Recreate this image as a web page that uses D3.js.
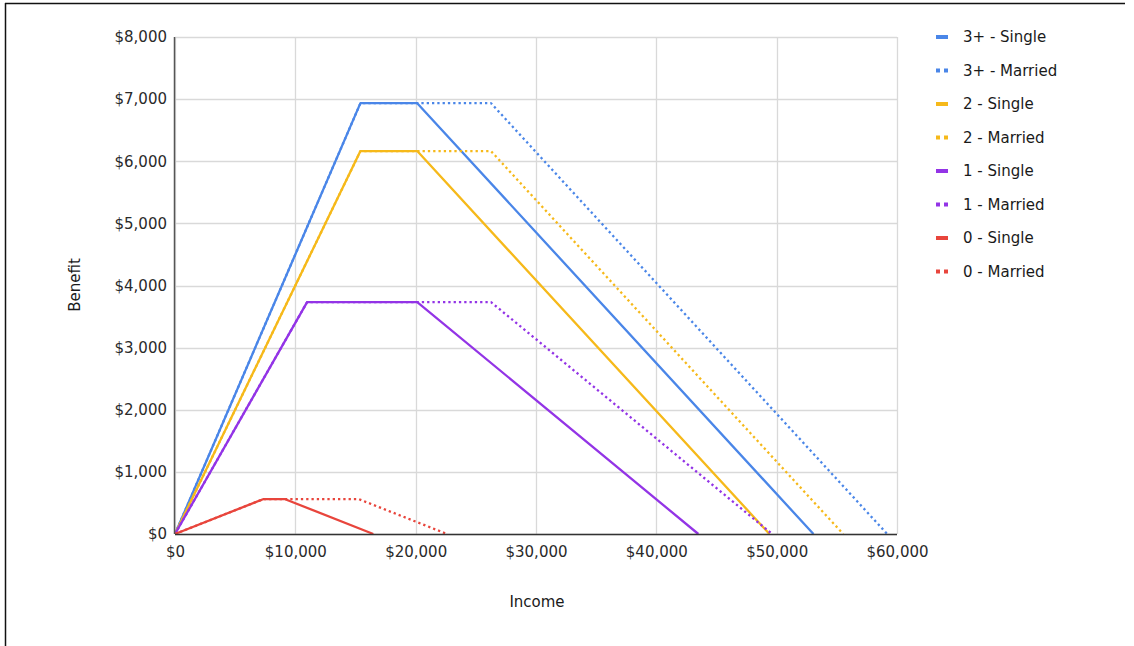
<!DOCTYPE html>
<html><head><meta charset="utf-8">
<script src="https://cdn.jsdelivr.net/npm/d3@7"></script>
<style>body{margin:0;background:#fff;} text{font-family:"DejaVu Sans",Arial,sans-serif;}</style>
</head><body>
<svg id="c" width="1134" height="646"></svg>
<script>
const seriesNames = ["3+ - Single","3+ - Married","2 - Single","2 - Married","1 - Single","1 - Married","0 - Single","0 - Married"];
const seriesColors = ["#4a86e8","#4a86e8","#f6b91a","#f6b91a","#9334e6","#9334e6","#e8453c","#e8453c"];
const seriesDotted = [false,true,false,true,false,true,false,true];
// income breakpoints and benefit values per series
const incomes3S = [0,15410,20130,53057];
const benefit3S = [0,6935,6935,0];
const incomes3M = [0,15410,26260,59187];
const benefit3M = [0,6935,6935,0];
const incomes2S = [0,15410,20130,49399];
const benefit2S = [0,6164,6164,0];
const incomes2M = [0,15410,26260,55529];
const benefit2M = [0,6164,6164,0];
const incomes1S = [0,10980,20130,43492];
const benefit1S = [0,3733,3733,0];
const incomes1M = [0,10980,26260,49622];
const benefit1M = [0,3733,3733,0];
const incomes0S = [0,7320,9160,16480];
const benefit0S = [0,560,560,0];
const incomes0M = [0,7320,15290,22610];
const benefit0M = [0,560,560,0];
const xTicks = [0,10000,20000,30000,40000,50000,60000];
const yTicks = [0,1000,2000,3000,4000,5000,6000,7000,8000];

const seriesData = [
  [incomes3S,benefit3S],[incomes3M,benefit3M],[incomes2S,benefit2S],[incomes2M,benefit2M],
  [incomes1S,benefit1S],[incomes1M,benefit1M],[incomes0S,benefit0S],[incomes0M,benefit0M]
];

const FONT = "DejaVu Sans, Arial, sans-serif";
const svg = d3.select("#c");
// frame
svg.append("line").attr("x1",5.5).attr("x2",5.5).attr("y1",3).attr("y2",646).attr("stroke","#111").attr("stroke-width",1.5);
svg.append("line").attr("x1",5).attr("x2",1125).attr("y1",3.5).attr("y2",3.5).attr("stroke","#111").attr("stroke-width",1.5);

const x = d3.scaleLinear().domain([0,60000]).range([175,897]);
const y = d3.scaleLinear().domain([0,8000]).range([534,37]);
const fmt = d3.format("$,");

// gridlines
svg.append("g").selectAll("line").data(yTicks).join("line")
  .attr("x1",x(0)).attr("x2",x(60000)).attr("y1",d=>Math.round(y(d))+0.5).attr("y2",d=>Math.round(y(d))+0.5)
  .attr("stroke","#d9d9d9").attr("stroke-width",1.3);
svg.append("g").selectAll("line").data(xTicks).join("line")
  .attr("y1",y(0)).attr("y2",y(8000)).attr("x1",d=>Math.round(x(d))+0.5).attr("x2",d=>Math.round(x(d))+0.5)
  .attr("stroke","#d9d9d9").attr("stroke-width",1.3);

// axes labels via d3 axes
const xAxis = svg.append("g").attr("transform",`translate(0,${y(0)})`)
  .call(d3.axisBottom(x).tickValues(xTicks).tickFormat(fmt).tickSize(0).tickPadding(12));
xAxis.select(".domain").remove();
xAxis.selectAll("text").attr("font-size",15).attr("fill","#2a2a2a").attr("font-family",FONT);
const yAxis = svg.append("g").attr("transform",`translate(${x(0)},0)`)
  .call(d3.axisLeft(y).tickValues(yTicks).tickFormat(fmt).tickSize(0).tickPadding(8));
yAxis.select(".domain").remove();
yAxis.selectAll("text").attr("font-size",15).attr("fill","#2a2a2a").attr("font-family",FONT);

// series lines
const line = d3.line().x(d=>x(d[0])).y(d=>y(d[1]));
seriesData.forEach((s,i)=>{
  const pts = s[0].map((v,j)=>[v,s[1][j]]);
  const p = svg.append("path").datum(pts).attr("d",line).attr("fill","none")
    .attr("stroke",seriesColors[i]).attr("stroke-width",2.3).attr("stroke-linejoin","round");
  if(seriesDotted[i]) p.attr("stroke-dasharray","2.3,3");
});

// axis baselines
svg.append("line").attr("x1",x(0)).attr("x2",x(60000)).attr("y1",y(0)+0.5).attr("y2",y(0)+0.5).attr("stroke","#333").attr("stroke-width",1.5);
svg.append("line").attr("x1",x(0)-0.5).attr("x2",x(0)-0.5).attr("y1",y(0)).attr("y2",y(8000)).attr("stroke","#555").attr("stroke-width",1.5);

// axis titles
svg.append("text").attr("x",537).attr("y",607).attr("text-anchor","middle").attr("font-size",15).attr("fill","#1a1a1a").text("Income");
svg.append("text").attr("transform","translate(80,285) rotate(-90)").attr("text-anchor","middle").attr("font-size",15).attr("fill","#1a1a1a").text("Benefit");

// legend
const lg = svg.append("g");
seriesNames.forEach((n,i)=>{
  const yy = 37 + i*33.5;
  const l = lg.append("line").attr("x1",936).attr("x2",948).attr("y1",yy).attr("y2",yy)
    .attr("stroke",seriesColors[i]).attr("stroke-width",4);
  if(seriesDotted[i]) l.attr("stroke-dasharray","4,4").attr("x2",952);
  lg.append("text").attr("x",963).attr("y",yy+5).attr("font-size",15).attr("fill","#1a1a1a").text(n);
});
</script>
</body></html>
